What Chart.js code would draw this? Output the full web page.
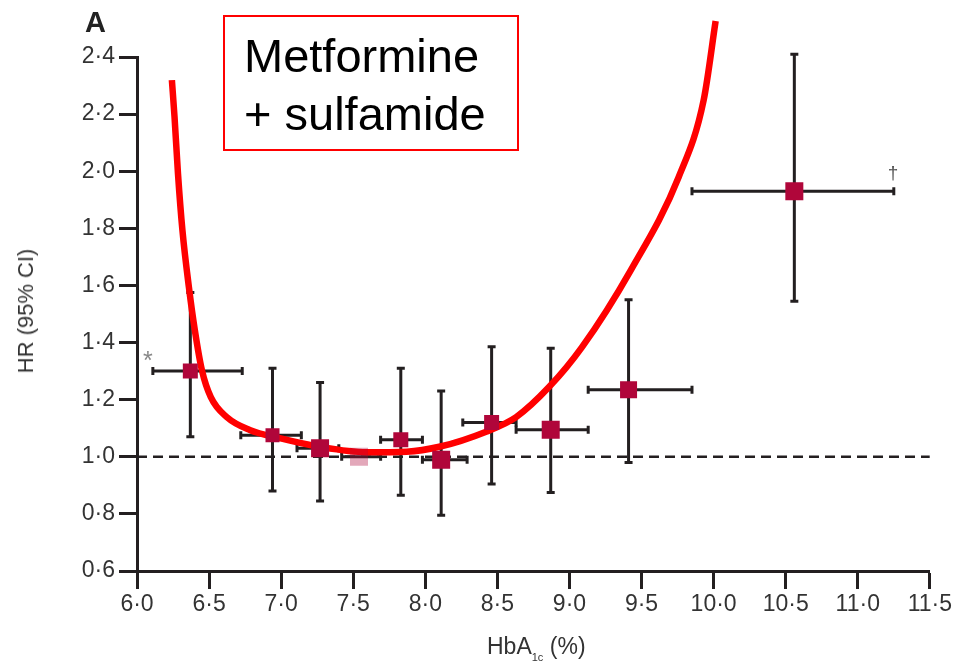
<!DOCTYPE html>
<html>
<head>
<meta charset="utf-8">
<script src="https://cdn.jsdelivr.net/npm/chart.js@4.4.0/dist/chart.umd.min.js"></script>
<style>
    html, body { margin: 0; padding: 0; background: #fff; }
    #wrap { position: relative; width: 954px; height: 666px; overflow: hidden; }
    #graph { position: absolute; left: 0; top: 0; }
    .panel {
        position: absolute; left: 85px; top: 8px;
        font: bold 29px "Liberation Sans", Arial, sans-serif; line-height: 1; color: #222;
    }
    .box {
        position: absolute; left: 223px; top: 15px; width: 296px; height: 136px;
        box-sizing: border-box; border: 2px solid #ff0000; padding: 10px 0 0 19px;
        font: 47px "Liberation Sans", Arial, sans-serif; line-height: 58px; color: #000;
    }
    .xtitle {
        position: absolute; left: 487px; top: 635px; white-space: nowrap;
        font: 23px "Liberation Sans", Arial, sans-serif; line-height: 1; color: #333;
    }
    .xtitle sub { font-size: 11px; vertical-align: -7px; }
    .ytitle {
        position: absolute; left: 26px; top: 311px; white-space: nowrap;
        transform: translate(-50%, -50%) rotate(-90deg);
        font: 22px "Liberation Sans", Arial, sans-serif; line-height: 1; color: #333;
    }
</style>
</head>
<body>
<div id="wrap">
    <canvas id="graph" width="954" height="666"></canvas>
    <div class="panel">A</div>
    <div class="box">Metformine<br>+ sulfamide</div>
    <div class="ytitle">HR (95% CI)</div>
    <div class="xtitle">HbA<sub>1c</sub> (%)</div>
</div>
<script>
// HbA1c categories (mean, range) and hazard ratios with 95% CI
const hba1c = [6.37, 6.94, 7.27, 7.54, 7.83, 8.11, 8.46, 8.87, 9.41, 10.56];
const hba1cLow = [6.11, 6.72, 7.11, 7.42, 7.69, 7.98, 8.26, 8.63, 9.13, 9.85];
const hba1cHigh = [6.73, 7.14, 7.40, 7.69, 7.98, 8.29, 8.63, 9.13, 9.85, 11.25];
const hazardRatio = [1.30, 1.075, 1.03, 1.00, 1.06, 0.99, 1.12, 1.095, 1.235, 1.93];
const ciLow = [1.07, 0.88, 0.845, null, 0.865, 0.795, 0.905, 0.875, 0.98, 1.545];
const ciHigh = [1.575, 1.31, 1.26, null, 1.31, 1.23, 1.385, 1.38, 1.55, 2.41];

// fitted curve (red)
const curveX = [6.242, 6.26, 6.284, 6.315, 6.36, 6.401, 6.45, 6.512, 6.623, 6.782, 6.99, 7.266, 7.592, 7.869, 8.097, 8.422, 8.63, 8.858, 9.087, 9.426, 9.758, 9.931, 10.014];
const curveY = [2.319, 2.193, 1.994, 1.794, 1.594, 1.444, 1.304, 1.209, 1.139, 1.094, 1.065, 1.035, 1.016, 1.018, 1.035, 1.088, 1.139, 1.244, 1.384, 1.654, 1.98, 2.249, 2.526];

// significance marks
const markText = ['*', '†'];
const markX = [6.075, 11.245];
const markY = [1.33, 1.99];

const refHR = 1.0;
const xTickLabels = ['6·0', '6·5', '7·0', '7·5', '8·0', '8·5', '9·0', '9·5', '10·0', '10·5', '11·0', '11·5'];
const yTickLabels = ['0·6', '0·8', '1·0', '1·2', '1·4', '1·6', '1·8', '2·0', '2·2', '2·4'];

// square side in px per category
const squareSide = [15, 14, 18, 18, 15, 18, 15, 18, 17, 18];
const squareColor = hazardRatio.map((v, i) => ciLow[i] === null ? 'rgba(176, 6, 58, 0.35)' : '#b0063a');

const ink = '#231f20';
const tickFont = { family: '"Liberation Sans", Arial, sans-serif', size: 23 };

const errorBars = {
    id: 'errorBars',
    beforeDatasetDraw(chart, args) {
        if (args.index !== 1) return;
        const ctx = chart.ctx;
        const x = chart.scales.x, y = chart.scales.y;
        const cap = 4;
        ctx.save();
        ctx.strokeStyle = ink;
        ctx.lineWidth = 3;
        hba1c.forEach((v, i) => {
            const px = x.getPixelForValue(v);
            const py = y.getPixelForValue(hazardRatio[i]);
            const l = x.getPixelForValue(hba1cLow[i]);
            const r = x.getPixelForValue(hba1cHigh[i]);
            ctx.beginPath();
            ctx.moveTo(l, py); ctx.lineTo(r, py);
            ctx.moveTo(l, py - cap); ctx.lineTo(l, py + cap);
            ctx.moveTo(r, py - cap); ctx.lineTo(r, py + cap);
            if (ciLow[i] !== null) {
                const t = y.getPixelForValue(ciHigh[i]);
                const b = y.getPixelForValue(ciLow[i]);
                ctx.moveTo(px, t); ctx.lineTo(px, b);
                ctx.moveTo(px - cap, t); ctx.lineTo(px + cap, t);
                ctx.moveTo(px - cap, b); ctx.lineTo(px + cap, b);
            }
            ctx.stroke();
        });
        ctx.restore();
    },
    afterDatasetsDraw(chart) {
        const ctx = chart.ctx;
        ctx.save();
        ctx.textAlign = 'center';
        ctx.textBaseline = 'middle';
        markText.forEach((t, i) => {
            ctx.fillStyle = t === '*' ? '#888' : '#555';
            ctx.font = (t === '*' ? 25 : 19) + 'px "Liberation Sans", Arial, sans-serif';
            ctx.fillText(t, chart.scales.x.getPixelForValue(markX[i]), chart.scales.y.getPixelForValue(markY[i]));
        });
        ctx.restore();
    }
};

function initChart(id) {
    const ctx = document.getElementById(id).getContext('2d');

    new Chart(ctx, {
        type: 'scatter',
        data: {
            datasets: [{
                data: hba1c.map((v, i) => ({ x: v, y: hazardRatio[i] })),
                pointStyle: 'rect',
                pointRadius: squareSide.map(s => s / Math.SQRT2),
                pointBackgroundColor: squareColor,
                pointBorderWidth: 0,
                order: 0,
            }, {
                data: curveX.map((v, i) => ({ x: v, y: curveY[i] })),
                showLine: true,
                borderColor: '#ff0000',
                borderWidth: 6.5,
                cubicInterpolationMode: 'monotone',
                pointRadius: 0,
                clip: false,
                order: 1,
            }, {
                data: [{ x: 6, y: refHR }, { x: 11.5, y: refHR }],
                showLine: true,
                borderColor: ink,
                borderWidth: 2.5,
                borderDash: [10, 6],
                pointRadius: 0,
                order: 2,
            }],
        },
        options: {
            responsive: false,
            animation: false,
            devicePixelRatio: 1,
            layout: {
                padding: { left: 0, top: 57, right: 22, bottom: 0 }
            },
            plugins: {
                legend: { display: false },
                tooltip: { enabled: false },
            },
            scales: {
                x: {
                    type: 'linear',
                    min: 6,
                    max: 11.5,
                    afterFit: s => { s.height = 95; },
                    border: { color: ink, width: 3 },
                    grid: {
                        drawOnChartArea: false,
                        tickLength: 18,
                        tickWidth: 3,
                        tickColor: ink,
                    },
                    ticks: {
                        stepSize: 0.5,
                        color: '#333',
                        font: tickFont,
                        padding: 2,
                        maxRotation: 0,
                        autoSkip: false,
                        callback: (value, index) => xTickLabels[index],
                    },
                },
                y: {
                    min: 0.6,
                    max: 2.4,
                    afterFit: s => { s.width = 137; },
                    border: { color: ink, width: 3 },
                    grid: {
                        drawOnChartArea: false,
                        tickLength: 18,
                        tickWidth: 3,
                        tickColor: ink,
                    },
                    ticks: {
                        stepSize: 0.2,
                        color: '#333',
                        font: tickFont,
                        padding: 4,
                        autoSkip: false,
                        callback: (value, index) => yTickLabels[index],
                    },
                },
            },
        },
        plugins: [errorBars],
    });
}

initChart('graph');
</script>
</body>
</html>
